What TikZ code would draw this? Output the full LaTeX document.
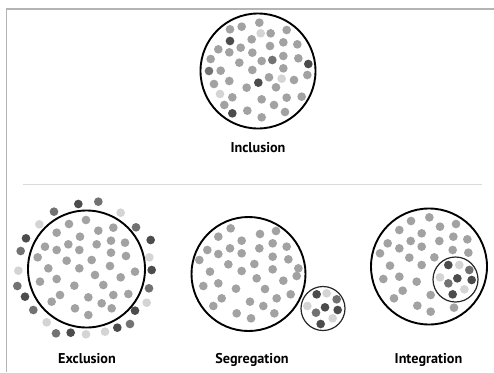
\documentclass[tikz,border=0pt]{standalone}
\usepackage{fontspec}
\setmainfont{PT Sans}
\definecolor{md}{HTML}{A2A2A2}
\definecolor{dk}{HTML}{4C4C4C}
\definecolor{dm}{HTML}{727272}
\definecolor{lt}{HTML}{D4D4D4}
\definecolor{frame}{HTML}{B4B4B4}
\definecolor{sep}{HTML}{DADADA}
\tikzset{
  bigring/.style={draw=black,line width=1.9pt},
  smallring/.style={draw=black!85,line width=1.2pt},
  caption/.style={font=\bfseries\fontsize{14.2}{16}\selectfont,anchor=base,inner sep=0pt},
}
\newcommand{\mydots}[1]{\foreach \px/\py/\pc in {#1} {\fill[\pc] (\px,\py) circle (13);}}
\begin{document}
\begin{tikzpicture}[x=1pt,y=-1pt]
\useasboundingbox (0,0) rectangle (494,372);
% frame lines
\draw[frame,line width=1.3pt] (6.5,372) -- (6.5,9) -- (494,9);
\draw[sep,line width=1pt] (23,184) -- (482,184);

% Inclusion
\begin{scope}[shift={(190,0)},scale=1/3]
\mydots{120/88/md,155/80/md,208/68/md,212/100/lt,242/100/md,290/90/md,120/123/dk,185/118/md,240/138/md,280/127/md,322/133/md,85/148/md,118/157/md,152/143/md,187/158/md,215/183/md,247/180/dm,280/168/md,325/175/md,62/177/md,148/188/md,355/192/dk,57/213/dm,92/212/md,187/210/md,280/205/md,352/225/md,72/252/md,118/243/md,205/248/dk,237/232/md,275/236/lt,312/240/md,170/263/md,258/262/md,90/282/lt,127/292/md,215/298/md,290/293/md,335/290/md,103/315/md,252/315/md,127/340/dk,172/332/md,215/352/md,285/336/md}
\end{scope}
\draw[bigring] (258,71) circle (57.5);
\node[caption] (inc) at (258,152) {Inclusion};

% Exclusion
\begin{scope}[shift={(0,180)},scale=1/3]
\mydots{207/132/md,258/120/md,170/158/md,240/170/md,295/152/md,340/143/md,135/200/md,170/210/md,205/193/md,238/210/md,290/193/md,333/182/md,375/188/md,113/232/md,200/242/md,275/240/md,333/218/md,378/228/md,145/265/md,238/265/md,330/258/md,405/275/md,120/305/md,170/297/md,285/285/md,362/292/md,223/317/md,310/315/md,180/345/md,265/352/md,340/345/md,385/342/md,155/365/md,305/370/md,225/385/md,335/385/md,265/405/md}
\mydots{235/72/dk,295/65/dm,162/95/dm,362/98/lt,118/133/lt,408/142/dm,78/175/dk,452/180/dk,62/213/dm,448/232/lt,55/272/lt,455/270/dk,52/318/dm,447/325/dm,75/350/dk,440/368/lt,100/390/dm,405/392/dk,140/427/lt,390/432/dm,168/460/dm,212/458/dk,258/463/lt,315/455/lt,352/443/dk}
\end{scope}
\draw[bigring] (86.5,269) circle (58.5);
\node[caption] (exc) at (87,363) {Exclusion};

% Segregation
\begin{scope}[shift={(170,180)},scale=1/3]
\mydots{182/145/md,145/170/md,270/162/md,318/153/md,215/182/md,112/210/md,145/222/md,180/205/md,268/205/md,308/190/md,350/200/md,88/240/md,215/220/md,175/253/md,253/252/md,308/230/md,355/238/md,120/275/md,215/273/md,308/268/md,385/265/md,260/295/md,380/288/md,100/318/md,145/310/md,340/302/md,198/326/md,285/327/md,362/343/md,155/355/md,320/355/md,240/365/md,130/378/md,280/378/md,200/400/md,313/400/md,243/415/md}
\mydots{440/343/dk,470/340/lt,500/358/dm,412/378/lt,465/382/dk,438/398/dm,503/390/dk,488/415/lt,452/432/dk}
\end{scope}
\draw[bigring] (248.5,274) circle (57);
\draw[smallring] (323,308.5) circle (22);
\node[caption] (seg) at (252,363) {Segregation};

% Integration
\begin{scope}[shift={(340,180)},scale=1/3]
\mydots{268/112/md,213/123/md,348/132/md,178/150/md,300/140/md,245/160/md,143/190/md,212/183/md,298/183/md,340/170/md,382/178/md,178/205/md,245/200/md,338/210/md,385/218/md,120/220/md,208/233/md,283/232/md,150/257/md,245/255/md,130/297/md,178/290/md,230/305/md,188/332/md,162/355/md,272/345/md,232/377/md,272/395/md,342/383/md}
\mydots{325/255/dk,358/255/lt,388/270/dm,300/292/lt,352/295/dk,395/300/dk,325/310/dm,373/328/lt,338/343/dk}
\end{scope}
\draw[bigring] (429,266.5) circle (58);
\draw[smallring] (455.5,279.5) circle (22.5);
\node[caption] (int) at (428.5,363) {Integration};
\end{tikzpicture}
\end{document}
